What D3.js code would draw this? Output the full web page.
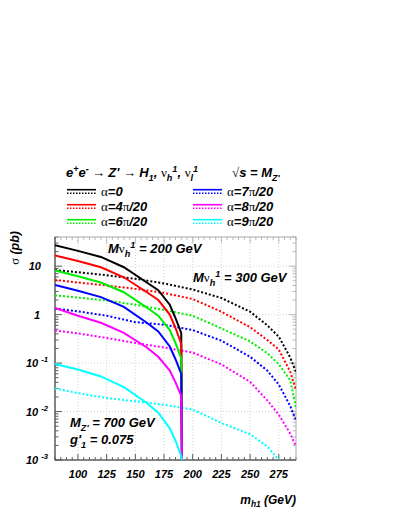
<!DOCTYPE html>
<html>
<head>
<meta charset="utf-8">
<script src="https://cdn.jsdelivr.net/npm/d3@7"></script>
<style>
  html, body { margin: 0; padding: 0; background: #fff; overflow: hidden; }
  svg { display: block; }
</style>
</head>
<body>
<svg id="chart"></svg>
<script>
// m_h1 grid for the M_nu = 200 GeV curves (solid) and 300 GeV curves (dotted)
const mh200 = [80, 100, 120, 140, 160, 170, 180, 185, 190, 190.6];
const mh300 = [80, 100, 125, 150, 175, 200, 225, 250, 265, 275, 285, 290];

const alphaNames = ["0", "4π/20", "6π/20", "7π/20", "8π/20", "9π/20"];
const colors = ["#000000", "#ff0000", "#00ee00", "#0000ff", "#ff00ff", "#00ffff"];

// sigma (pb), solid lines
const sol0 = [27, 20.7, 15.5, 9.5, 4.6, 3.2, 1.6, 0.85, 0.42, 0.001];
const sol4 = [16.7, 12.8, 9.5, 5.9, 2.9, 2.0, 1.0, 0.53, 0.25, 0.001];
const sol6 = [8.2, 6.2, 4.6, 2.9, 1.4, 0.95, 0.48, 0.26, 0.125, 0.001];
const sol7 = [4.1, 3.1, 2.3, 1.45, 0.68, 0.45, 0.22, 0.12, 0.06, 0.001];
const sol8 = [1.38, 0.95, 0.68, 0.42, 0.21, 0.135, 0.07, 0.04, 0.021, 0.001];
const sol9 = [0.096, 0.074, 0.053, 0.032, 0.015, 0.0095, 0.0045, 0.0025, 0.0012, 0.001];

// sigma (pb), dotted lines
const dot0 = [8.3, 7.5, 6.5, 5.5, 4.4, 3.3, 2.2, 1.15, 0.6, 0.35, 0.13, 0.065];
const dot4 = [5.2, 4.6, 4.0, 3.4, 2.8, 2.1, 1.15, 0.55, 0.3, 0.19, 0.066, 0.028];
const dot6 = [2.5, 2.25, 1.95, 1.6, 1.25, 0.95, 0.52, 0.28, 0.16, 0.095, 0.044, 0.012];
const dot7 = [1.34, 1.17, 0.95, 0.7, 0.62, 0.48, 0.29, 0.135, 0.07, 0.036, 0.013, 0.0065];
const dot8 = [0.47, 0.41, 0.33, 0.26, 0.21, 0.165, 0.094, 0.041, 0.017, 0.0086, 0.0035, 0.0019];
const dot9 = [0.030, 0.024, 0.019, 0.0163, 0.0138, 0.011, 0.0058, 0.0034, 0.0019, 0.001, null, null];

const solids = [sol0, sol4, sol6, sol7, sol8, sol9];
const dots = [dot0, dot4, dot6, dot7, dot8, dot9];

const xTicks = [100, 125, 150, 175, 200, 225, 250, 275];
const yTicks = [0.001, 0.01, 0.1, 1, 10];

const width = 399, height = 516;
const margin = { top: 237, right: 103, bottom: 56, left: 55 };
const innerWidth = width - margin.left - margin.right;
const innerHeight = height - margin.top - margin.bottom;

const sans = "'Liberation Sans', Arial, Helvetica, sans-serif";
const serif = "'Liberation Serif', 'Times New Roman', serif";

const svg = d3.select("#chart").attr("width", width).attr("height", height);
svg.append("rect").attr("width", width).attr("height", height).attr("fill", "#fff");

const xScale = d3.scaleLinear().domain([80, 290]).range([margin.left, margin.left + innerWidth]);
const yScale = d3.scaleLog().domain([0.001, 40]).range([margin.top + innerHeight, margin.top]);
const x0 = margin.left, x1 = margin.left + innerWidth;
const y0 = margin.top, y1 = margin.top + innerHeight;

// text with sub/superscripts and greek letters
function rich(parent, x, y, parts, size, anchor) {
  const t = parent.append("text")
    .attr("x", x).attr("y", y)
    .attr("font-size", size)
    .attr("text-anchor", anchor || "start")
    .attr("font-family", sans).attr("font-weight", "bold").attr("font-style", "italic")
    .attr("fill", "#000");
  parts.forEach(p => {
    const ts = t.append("tspan").text(p.t);
    if (p.sup) ts.attr("baseline-shift", (size * 0.42).toFixed(1)).attr("font-size", size * 0.7);
    if (p.sub) ts.attr("baseline-shift", (-size * 0.28).toFixed(1)).attr("font-size", size * 0.7);
    if (p.g) ts.attr("font-family", serif).attr("font-weight", "normal").attr("font-style", "normal");
  });
  return t;
}

// grid
svg.selectAll(".vgrid").data(xTicks).join("line").attr("class", "vgrid")
  .attr("x1", d => xScale(d)).attr("x2", d => xScale(d))
  .attr("y1", y0).attr("y2", y1)
  .attr("stroke", "#c8c8c8").attr("stroke-width", 0.8).attr("stroke-dasharray", "1,2");
svg.selectAll(".hgrid").data(yTicks.slice(1)).join("line").attr("class", "hgrid")
  .attr("y1", d => yScale(d)).attr("y2", d => yScale(d))
  .attr("x1", x0).attr("x2", x1)
  .attr("stroke", "#c8c8c8").attr("stroke-width", 0.8).attr("stroke-dasharray", "1,2");

// ticks
const xMinor = d3.range(80, 291, 5);
const yMinor = [];
yTicks.forEach(dec => d3.range(2, 10).forEach(k => { if (dec * k <= 40) yMinor.push(dec * k); }));

function xTickLines(yb, dir, col) {
  svg.append("g").selectAll("line").data(xMinor).join("line")
    .attr("x1", d => xScale(d)).attr("x2", d => xScale(d))
    .attr("y1", yb).attr("y2", d => yb + dir * (d % 25 === 0 ? 6 : 3))
    .attr("stroke", col).attr("stroke-width", 0.8);
}
function yTickLines(xb, dir, col) {
  svg.append("g").selectAll("line").data(yTicks.concat(yMinor)).join("line")
    .attr("y1", d => yScale(d)).attr("y2", d => yScale(d))
    .attr("x1", xb).attr("x2", d => xb + dir * (yTicks.includes(d) ? 7 : 3.5))
    .attr("stroke", col).attr("stroke-width", 0.8);
}
xTickLines(y1, -1, "#333");
xTickLines(y0, 1, "#aaa");
yTickLines(x0, 1, "#333");
yTickLines(x1, -1, "#aaa");

// frame
svg.append("rect").attr("x", x0).attr("y", y0).attr("width", innerWidth).attr("height", innerHeight)
  .attr("fill", "none").attr("stroke", "#aaa").attr("stroke-width", 1);
svg.append("line").attr("x1", x0).attr("x2", x0).attr("y1", y0).attr("y2", y1).attr("stroke", "#333");
svg.append("line").attr("x1", x0).attr("x2", x1).attr("y1", y1).attr("y2", y1).attr("stroke", "#333");

// curves, clipped to the frame
svg.append("clipPath").attr("id", "plotclip").append("rect")
  .attr("x", x0).attr("y", y0).attr("width", innerWidth).attr("height", innerHeight);
const plot = svg.append("g").attr("clip-path", "url(#plotclip)");

const line200 = d3.line().x((d, i) => xScale(mh200[i])).y(d => yScale(d));
const line300 = d3.line().defined(d => d != null).x((d, i) => xScale(mh300[i])).y(d => yScale(d));

dots.forEach((s, k) => {
  plot.append("path").datum(s).attr("d", line300)
    .attr("fill", "none").attr("stroke", colors[k]).attr("stroke-width", 2)
    .attr("stroke-dasharray", "2,2");
});
solids.forEach((s, k) => {
  plot.append("path").datum(s).attr("d", line200)
    .attr("fill", "none").attr("stroke", colors[k]).attr("stroke-width", 2);
});

// x tick labels
svg.selectAll(".xlab").data(xTicks).join("text").attr("class", "xlab")
  .attr("x", d => xScale(d)).attr("y", y1 + 18)
  .attr("text-anchor", "middle")
  .attr("font-family", sans).attr("font-weight", "bold").attr("font-style", "italic")
  .attr("font-size", 11).text(d => d);

// y tick labels
yTicks.forEach(v => {
  const y = yScale(v) + 4;
  const e = Math.round(Math.log10(v));
  if (e === 1) rich(svg, x0 - 14, y, [{ t: "10" }], 11, "end");
  else if (e === 0) rich(svg, x0 - 15, y, [{ t: "1" }], 11, "end");
  else rich(svg, x0 - 29, y, [{ t: "10 " }, { t: String(e), sup: true }], 11, "start");
});

// axis titles
rich(svg, 0, 0, [{ t: "σ", g: true }, { t: " (pb)" }], 12.5, "end")
  .attr("transform", `translate(19, ${y0 - 6}) rotate(-90)`);
rich(svg, x1, 504, [{ t: "m" }, { t: "h1", sub: true }, { t: " (GeV)" }], 12, "end");

// annotations
const nu = (m) => [{ t: "M" }, { t: "ν", g: true }, { t: "h", sub: true }, { t: "1", sup: true }, { t: ` = ${m} GeV` }];
rich(svg, x0 + 53, y0 + 16, nu(200), 13);
rich(svg, x0 + 138, y0 + 45, nu(300), 13);
rich(svg, x0 + 15, y0 + 190, [{ t: "M" }, { t: "Z'", sub: true }, { t: " = 700 GeV" }], 13);
rich(svg, x0 + 15, y0 + 207, [{ t: "g'" }, { t: "1", sub: true }, { t: " = 0.075" }], 13);

// legend
rich(svg, 66, 177, [{ t: "e" }, { t: "+", sup: true }, { t: "e" }, { t: "-", sup: true },
  { t: " → ", g: true }, { t: "Z' " }, { t: "→ ", g: true }, { t: "H" }, { t: "1", sub: true }, { t: ", " },
  { t: "ν", g: true }, { t: "h", sub: true }, { t: "1", sup: true }, { t: ", " },
  { t: "ν", g: true }, { t: "l", sub: true }, { t: "1", sup: true }], 13);
rich(svg, 232, 177, [{ t: "√", g: true }, { t: "s = M" }, { t: "Z'", sub: true }], 13);

const legX = [67, 193];
const legY = [191.5, 206.5, 221.5];
const leg = svg.append("g");
alphaNames.forEach((name, k) => {
  const lx = legX[Math.floor(k / 3)], ly = legY[k % 3];
  leg.append("line").attr("x1", lx).attr("x2", lx + 29).attr("y1", ly - 1.8).attr("y2", ly - 1.8)
    .attr("stroke", colors[k]).attr("stroke-width", 1.6);
  leg.append("line").attr("x1", lx).attr("x2", lx + 29).attr("y1", ly + 1.8).attr("y2", ly + 1.8)
    .attr("stroke", colors[k]).attr("stroke-width", 1.6).attr("stroke-dasharray", "1.5,1.5");
  const parts = [{ t: "α", g: true }, { t: "=" }];
  name.split(/(π)/).filter(s => s).forEach(s => parts.push(s === "π" ? { t: s, g: true } : { t: s }));
  rich(leg, lx + 34, ly + 4.5, parts, 13);
});
</script>
</body>
</html>
